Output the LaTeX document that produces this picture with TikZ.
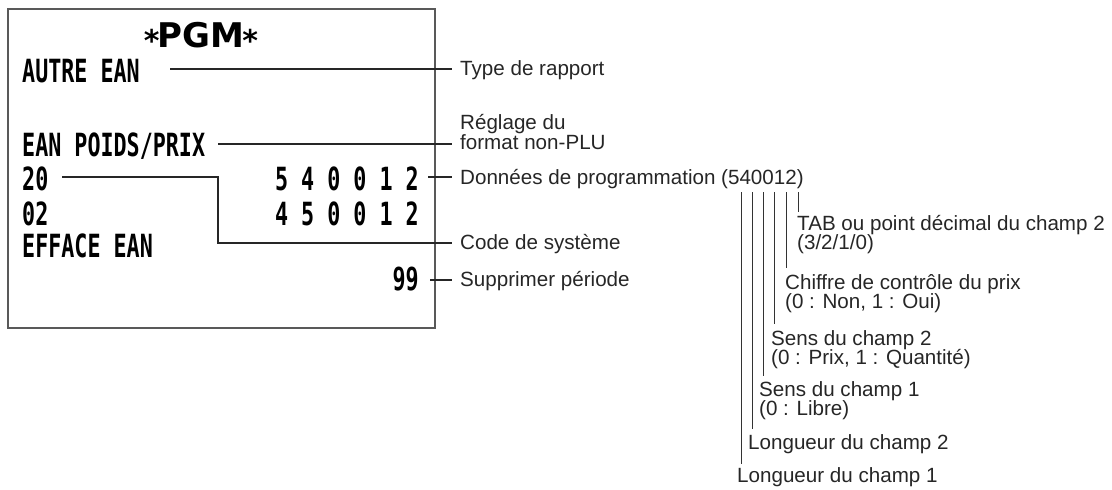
\documentclass[tikz,border=0pt]{standalone}
\usepackage{fontspec}
\usepackage{graphicx}
\setmainfont{Liberation Sans}
\newfontfamily\rcptfont{DejaVu Sans Mono}[BoldFont={DejaVu Sans Mono Bold}]
\newfontfamily\pgmfont{DejaVu Sans}[BoldFont={DejaVu Sans Bold}]
\newcommand\rcpt[1]{\scalebox{0.7}[1.03]{\rcptfont\bfseries\fontsize{31}{31}\selectfont #1}}
\newcommand\pgmstar{\raisebox{-4pt}{\fontsize{30}{30}\selectfont *}}
\newcommand\pgmtxt[1]{{\pgmfont\bfseries\fontsize{34}{34}\selectfont\pgmstar\kern-2pt #1\kern-2pt\pgmstar}}
\begin{document}
\begin{tikzpicture}[x=1pt,y=-1pt,
  rc/.style={inner sep=0pt, text=black},
  lbl/.style={inner sep=0pt, anchor=base west, text=black!85, font=\fontsize{20.6}{20.6}\selectfont},
  conn/.style={draw=black!85, line width=1.1pt},
  tick/.style={draw=black!80, line width=0.9pt},
  paper/.style={draw=black!65, line width=1.4pt}]
\useasboundingbox (0,0) rectangle (1112,490);
% receipt
\draw[paper] (8,9) rectangle (435,328);
\node[rc, anchor=base] (pgm) at (201,47) {\pgmtxt{PGM}};
\node[rc, anchor=base west] (autre) at (22,82) {\rcpt{AUTRE EAN}};
\node[rc, anchor=base west] (poids) at (22,156) {\rcpt{EAN POIDS/PRIX}};
\node[rc, anchor=base west] (r20) at (22,190) {\rcpt{20}};
\node[rc, anchor=base west] (r02) at (22,225) {\rcpt{02}};
\node[rc, anchor=base west] (eff) at (22,257) {\rcpt{EFFACE EAN}};
\node[rc, anchor=base east] (d1) at (419,190) {\rcpt{5 4 0 0 1 2}};
\node[rc, anchor=base east] (d2) at (419,225) {\rcpt{4 5 0 0 1 2}};
\node[rc, anchor=base east] (r99) at (419,290) {\rcpt{99}};
% labels
\node[lbl] (type) at (460,75) {Type de rapport};
\node[lbl] (regA) at (460,129) {Réglage du};
\node[lbl] (regB) at (460,149) {format non-PLU};
\node[lbl] (donnees) at (460,184) {Données de programmation (540012)};
\node[lbl] (code) at (460,249) {Code de système};
\node[lbl] (suppr) at (460,286) {Supprimer période};
\node[lbl] (tabA) at (797,230) {TAB ou point décimal du champ 2};
\node[lbl] (tabB) at (797,249) {(3/2/1/0)};
\node[lbl] (chA) at (785,289) {Chiffre de contrôle du prix};
\node[lbl] (chB) at (785,308) {(0 : Non, 1 : Oui)};
\node[lbl] (s2A) at (771,345) {Sens du champ 2};
\node[lbl] (s2B) at (771,364) {(0 : Prix, 1 : Quantité)};
\node[lbl] (s1A) at (759,396) {Sens du champ 1};
\node[lbl] (s1B) at (759,415) {(0 : Libre)};
\node[lbl] (l2) at (748,449) {Longueur du champ 2};
\node[lbl] (l1) at (737,482) {Longueur du champ 1};
% connector coordinates
\coordinate (a1) at (170,69);  \coordinate (a2) at (452,69);
\coordinate (p1) at (218,144); \coordinate (p2) at (452,144);
\coordinate (c1) at (62,177);  \coordinate (c2) at (218,177);
\coordinate (c3) at (218,243); \coordinate (c4) at (452,243);
\coordinate (e1) at (428,177); \coordinate (e2) at (452,177);
\coordinate (n1) at (430,280); \coordinate (n2) at (452,280);
\draw[conn] (a1) -- (a2);
\draw[conn] (p1) -- (p2);
\draw[conn] (c1) -- (c2) -- (c3) -- (c4);
\draw[conn] (e1) -- (e2);
\draw[conn] (n1) -- (n2);
% digit ticks
\coordinate (t1a) at (741,192); \coordinate (t1b) at (741,464);
\coordinate (t2a) at (752,192); \coordinate (t2b) at (752,429);
\coordinate (t3a) at (763,192); \coordinate (t3b) at (763,376);
\coordinate (t4a) at (774,192); \coordinate (t4b) at (774,324);
\coordinate (t5a) at (786,192); \coordinate (t5b) at (786,268);
\coordinate (t6a) at (798,192); \coordinate (t6b) at (798,212);
\draw[tick] (t1a) -- (t1b);
\draw[tick] (t2a) -- (t2b);
\draw[tick] (t3a) -- (t3b);
\draw[tick] (t4a) -- (t4b);
\draw[tick] (t5a) -- (t5b);
\draw[tick] (t6a) -- (t6b);
\end{tikzpicture}
\end{document}
